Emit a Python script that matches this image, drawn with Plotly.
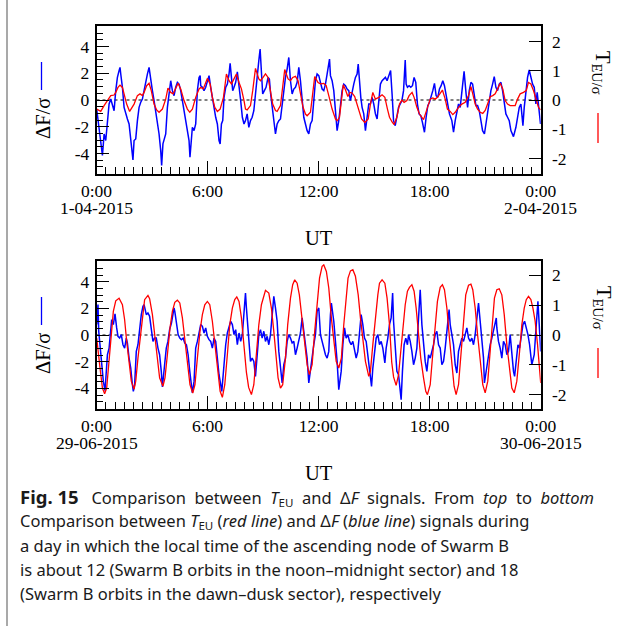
import plotly.graph_objects as go

# ---------------- data (hours UT, normalised values) ----------------
# Panel 1: 1-04-2015
top_dF = [
    (0.01, -0.67), (0.08, -1.54), (0.19, -2.79), (0.26, -3.91), (0.32, -4.15), (0.37, -3.28),
    (0.41, -2.54), (0.50, -3.03), (0.59, -1.54), (0.68, -0.30), (0.77, 0.07), (0.86, -0.42),
    (0.95, -0.80), (1.04, 0.70), (1.13, 1.69), (1.22, 2.19), (1.27, 2.44), (1.31, 1.94),
    (1.40, 0.95), (1.49, -0.55), (1.58, -1.04), (1.67, -1.42), (1.76, -1.79), (1.85, -3.03),
    (1.94, -4.40), (1.97, -4.48), (2.03, -3.03), (2.12, -2.91), (2.21, -1.54), (2.30, -0.55),
    (2.39, -0.17), (2.48, 0.07), (2.57, 0.70), (2.66, 1.44), (2.75, 1.94), (2.84, 2.44),
    (2.93, 1.32), (3.02, 0.70), (3.11, -0.05), (3.20, -0.80), (3.29, -1.79), (3.38, -2.54),
    (3.47, -3.78), (3.52, -4.90), (3.59, -3.28), (3.69, -2.79), (3.74, -2.54), (3.83, -0.55),
    (3.92, 0.45), (4.01, 1.44), (4.10, 0.70), (4.19, 0.32), (4.28, 0.95), (4.37, 1.32),
    (4.46, 1.19), (4.55, 0.70), (4.64, -0.05), (4.73, -0.80), (4.82, -1.54), (4.91, -2.04),
    (5.00, -3.03), (5.05, -4.28), (5.13, -2.54), (5.18, -2.04), (5.27, -2.29), (5.36, -1.79),
    (5.45, 0.70), (5.54, 1.69), (5.60, 1.82), (5.63, 1.07), (5.72, 0.95), (5.81, 0.70),
    (5.90, 0.95), (5.99, 1.32), (6.08, 1.82), (6.17, 0.95), (6.26, 0.20), (6.35, -0.80),
    (6.44, -1.29), (6.53, -1.79), (6.62, -3.03), (6.68, -3.28), (6.75, -1.79), (6.82, -1.54),
    (6.89, 0.20), (6.98, 0.95), (7.07, 1.19), (7.16, 1.94), (7.22, 2.74), (7.29, 1.69),
    (7.36, 0.70), (7.43, 0.95), (7.52, 1.32), (7.61, 2.11), (7.70, 1.19), (7.79, -0.05),
    (7.88, -1.29), (7.97, -1.79),
    (8.05, -1.54), (8.14, -1.04), (8.23, -2.04), (8.32, -1.54), (8.41, -1.29), (8.50, -0.80),
    (8.59, 0.45), (8.68, 1.94), (8.77, 2.94), (8.84, 3.81), (8.91, 1.69), (8.98, 0.45),
    (9.07, 0.70), (9.16, 0.95), (9.27, 1.69), (9.34, 1.57), (9.41, 0.45), (9.49, -0.55),
    (9.58, -1.54), (9.67, -2.54), (9.76, -1.79), (9.85, -1.54), (9.94, -1.42), (10.03, -0.30),
    (10.12, 0.70), (10.21, 1.69), (10.30, 2.31), (10.39, 3.18), (10.48, 1.44), (10.57, 0.45),
    (10.66, 0.82), (10.75, 0.95), (10.84, 1.32), (10.93, 2.44), (11.02, 1.44), (11.11, -0.30),
    (11.20, -1.29), (11.29, -1.79), (11.38, -2.29), (11.47, -2.54), (11.56, -1.79), (11.65, -1.54),
    (11.74, -0.30), (11.83, 1.44), (11.92, 1.94), (12.01, 1.82), (12.10, 1.32), (12.19, 0.82),
    (12.28, 0.70), (12.37, 1.19), (12.46, 1.94), (12.59, 3.06), (12.64, 1.82), (12.73, 1.44),
    (12.82, 0.70), (12.91, -0.55), (13.00, -2.29), (13.09, -1.54), (13.18, -0.55), (13.27, 0.70),
    (13.36, 1.19), (13.45, 1.07), (13.54, 0.82), (13.63, 0.70), (13.72, -0.05), (13.81, 0.70),
    (13.90, 1.19), (13.99, 1.69), (14.08, 1.94), (14.14, 2.69), (14.21, 1.19), (14.28, 0.20),
    (14.35, -0.55), (14.44, -1.04), (14.53, -2.29), (14.62, -1.04), (14.71, -0.30), (14.80, -0.30),
    (14.89, 0.20), (14.98, -0.30), (15.07, -1.04), (15.16, -1.42), (15.25, 0.20), (15.34, 1.19),
    (15.43, 1.44), (15.52, 1.57), (15.61, 1.69), (15.70, 1.44), (15.83, 2.00), (15.89, 2.20),
    (15.97, 0.45),
    (16.05, -1.54), (16.14, -1.92), (16.23, -1.04), (16.32, -0.55), (16.41, -0.30), (16.50, -0.05),
    (16.59, 0.70), (16.68, 2.99), (16.73, 1.19), (16.80, 0.95), (16.89, 1.07), (16.98, 0.95),
    (17.07, 1.07), (17.16, 1.69), (17.25, 1.32), (17.34, -0.30), (17.43, -1.04), (17.52, -1.17),
    (17.61, -1.67), (17.72, -2.41), (17.81, -1.29), (17.90, -0.42), (17.99, -0.17), (18.08, 0.20),
    (18.17, 0.70), (18.26, 1.24), (18.35, 0.32), (18.44, 0.20), (18.53, 0.82), (18.62, 1.07),
    (18.71, 1.44), (18.80, 1.07), (18.89, 0.32), (18.98, -0.55), (19.07, -1.04), (19.20, -1.54),
    (19.29, -2.41), (19.38, -1.54), (19.47, -0.92), (19.56, -0.30), (19.65, -0.55), (19.74, 0.70),
    (19.86, 2.14), (19.97, 0.45), (20.05, -0.55), (20.14, 0.70), (20.23, 1.32), (20.32, 1.19),
    (20.41, 0.32), (20.50, -0.42), (20.59, -0.42), (20.68, -0.80), (20.77, -1.54), (20.86, -2.29),
    (20.96, -2.54), (21.04, -1.79), (21.13, -0.80), (21.22, 0.20), (21.31, 0.70), (21.40, 1.19),
    (21.49, 1.74), (21.58, 0.95), (21.67, 0.70), (21.76, 1.19), (21.85, 1.32), (21.94, 0.70),
    (22.03, -0.30), (22.12, -1.04), (22.21, -1.29), (22.30, -1.54), (22.39, -2.29), (22.53, -2.74),
    (22.66, -2.04), (22.75, -1.29), (22.84, -0.55), (22.93, -0.30), (23.04, -1.92), (23.11, -0.55),
    (23.20, 0.70), (23.29, 1.69), (23.38, 2.24), (23.47, 1.57), (23.56, 1.19), (23.65, 0.95),
    (23.74, -0.30), (23.81, 0.57), (23.88, -0.30), (23.94, -1.29), (23.99, -1.79),
]

top_TEU = [
    (0.01, -0.31), (0.23, -0.39), (0.41, -0.19), (0.59, 0.00), (0.77, 0.15), (0.95, 0.17),
    (1.04, 0.26), (1.16, 0.43), (1.27, 0.51), (1.40, 0.43), (1.52, 0.09), (1.63, -0.14),
    (1.79, -0.39), (1.94, -0.25), (2.03, -0.14), (2.21, 0.15), (2.35, 0.21), (2.48, 0.15),
    (2.57, 0.26), (2.71, 0.49), (2.84, 0.57), (2.96, 0.32), (3.11, -0.14), (3.25, -0.34),
    (3.38, -0.42), (3.56, -0.31), (3.74, 0.03), (3.86, 0.41), (4.01, 0.26), (4.14, 0.21),
    (4.28, 0.38), (4.41, 0.57), (4.55, 0.38), (4.73, -0.02), (4.91, -0.31), (5.04, -0.42),
    (5.18, -0.31), (5.36, 0.09), (5.54, 0.38), (5.63, 0.43), (5.77, 0.38), (5.88, 0.60),
    (5.99, 0.74), (6.14, 0.55), (6.26, 0.09), (6.39, -0.25), (6.53, -0.39), (6.68, -0.31),
    (6.86, 0.09), (7.02, 0.89), (7.16, 0.66), (7.29, 0.55), (7.43, 0.72), (7.56, 0.89),
    (7.70, 0.60), (7.83, 0.38), (7.97, -0.02),
    (8.05, -0.31), (8.14, -0.34), (8.32, -0.19), (8.44, 0.32), (8.59, 1.08), (8.77, 0.72),
    (8.86, 0.66), (9.00, 0.77), (9.13, 0.89), (9.27, 0.77), (9.40, 0.32), (9.52, -0.14),
    (9.67, -0.36), (9.76, -0.39), (9.94, -0.19), (10.06, 0.55), (10.17, 1.04), (10.35, 0.72),
    (10.48, 0.66), (10.60, 0.77), (10.75, 0.81), (10.89, 0.66), (11.02, 0.26), (11.16, -0.25),
    (11.29, -0.48), (11.38, -0.54), (11.56, -0.42), (11.69, 0.32), (11.79, 0.80), (11.97, 0.60),
    (12.10, 0.55), (12.28, 0.57), (12.41, 0.49), (12.55, 0.15), (12.73, -0.31), (12.91, -0.65),
    (13.00, -0.71), (13.13, -0.59), (13.24, 0.05), (13.33, 0.52), (13.45, 0.35), (13.58, 0.12),
    (13.70, 0.26), (13.81, 0.24), (13.95, 0.12), (14.14, -0.31), (14.32, -0.65), (14.50, -0.77),
    (14.68, -0.65), (14.80, -0.14), (14.93, 0.26), (15.07, 0.03), (15.25, 0.09), (15.43, 0.18),
    (15.58, 0.09), (15.72, -0.31), (15.83, -0.59), (15.97, -0.75),
    (16.08, -0.84), (16.23, -0.59), (16.37, -0.14), (16.50, 0.00), (16.62, -0.08), (16.77, -0.02),
    (16.89, 0.15), (17.05, 0.26), (17.16, 0.09), (17.31, -0.25), (17.45, -0.48), (17.67, -0.67),
    (17.81, -0.42), (17.94, -0.14), (18.03, 0.03), (18.17, 0.07), (18.30, 0.03), (18.42, 0.09),
    (18.57, 0.21), (18.69, 0.34), (18.84, 0.03), (18.96, -0.31), (19.11, -0.39), (19.25, -0.50),
    (19.38, -0.42), (19.56, -0.25), (19.74, -0.14), (19.92, -0.08), (20.10, 0.15), (20.23, 0.46),
    (20.33, 0.21), (20.46, -0.14), (20.59, -0.31), (20.73, -0.42), (20.87, -0.46), (21.00, -0.36),
    (21.13, -0.14), (21.27, 0.11), (21.41, 0.15), (21.54, 0.21), (21.67, 0.38), (21.81, 0.57),
    (21.95, 0.38), (22.08, -0.02), (22.21, -0.14), (22.35, -0.19), (22.50, -0.19), (22.62, -0.19),
    (22.75, 0.03), (22.89, 0.21), (23.07, 0.26), (23.22, 0.32), (23.34, 0.60), (23.47, 0.55),
    (23.61, 0.32), (23.76, -0.02), (23.88, -0.25), (23.99, -0.34),
]

# Panel 2: 29-06-2015
bot_dF = [
    (0.01, 0.80), (0.08, 2.28), (0.12, 0.28), (0.19, -0.73), (0.26, -1.73), (0.37, -3.48),
    (0.46, -4.18), (0.53, -2.48), (0.59, -1.48), (0.68, -0.98), (0.77, 0.53), (0.82, 1.15),
    (0.91, 0.78), (1.00, 1.58), (1.09, 0.53), (1.16, -0.10), (1.25, -0.23), (1.34, 0.03),
    (1.43, -0.73), (1.52, -0.98), (1.61, -0.23), (1.67, -0.60), (1.76, -1.73), (1.85, -2.48),
    (1.94, -3.73), (1.99, -4.23), (2.06, -3.73), (2.15, -1.23), (2.24, -0.73), (2.33, 0.53),
    (2.42, 1.53), (2.51, 2.15), (2.57, 2.28), (2.69, 1.53), (2.78, 1.65), (2.87, 1.40),
    (2.96, 0.40), (3.05, -0.48), (3.14, -0.23), (3.23, -0.23), (3.32, -0.98), (3.41, -1.48),
    (3.50, -2.73), (3.56, -3.90), (3.68, -2.23), (3.77, -0.98), (3.86, -0.48), (3.95, 0.40),
    (4.05, 0.90), (4.19, 2.03), (4.23, 1.78), (4.32, 0.78), (4.41, 0.03), (4.50, -0.23),
    (4.59, -0.35), (4.68, -0.23), (4.77, -0.60), (4.86, -0.73), (4.95, -1.48), (5.04, -2.73),
    (5.13, -3.98), (5.18, -4.35), (5.27, -3.48), (5.36, -0.98), (5.45, -0.48), (5.54, 0.15),
    (5.63, 0.78), (5.72, 0.65), (5.81, 0.15), (5.90, 0.53), (5.99, -0.10), (6.08, -0.35),
    (6.17, -0.48), (6.26, -0.98), (6.35, -0.23), (6.44, -0.48), (6.53, -1.73), (6.62, -2.98),
    (6.77, -4.23), (6.89, -1.98), (6.98, -0.73), (7.07, 0.15), (7.16, 0.53), (7.25, 1.03),
    (7.34, 0.78), (7.43, 0.03), (7.52, 0.40), (7.61, -0.73), (7.70, 0.15), (7.79, -0.48),
    (7.88, 0.03), (7.97, 1.53),
    (8.05, 3.15), (8.10, 2.03), (8.17, 0.78), (8.23, -0.73), (8.32, -1.98), (8.41, -1.73),
    (8.50, -1.98), (8.59, -3.10), (8.68, -1.73), (8.77, 0.03), (8.86, 0.40), (8.95, -0.23),
    (9.04, 0.28), (9.13, -0.48), (9.22, -0.10), (9.31, -0.73), (9.40, 0.03), (9.49, 1.53),
    (9.58, 2.90), (9.67, 2.03), (9.76, 1.03), (9.85, -1.23), (9.94, -2.48), (10.03, -3.60),
    (10.12, -2.23), (10.21, -1.73), (10.30, -0.48), (10.39, 0.03), (10.48, -0.23), (10.57, -0.60),
    (10.66, -0.48), (10.75, -1.48), (10.84, -0.98), (10.93, -0.48), (11.02, 0.15), (11.11, 1.28),
    (11.20, 0.28), (11.29, -0.73), (11.38, -1.73), (11.47, -3.60), (11.56, -2.48), (11.65, -1.73),
    (11.74, -0.73), (11.83, 0.03), (11.92, 1.78), (12.01, 2.03), (12.10, 0.03), (12.19, -0.48),
    (12.28, -0.98), (12.37, -1.48), (12.46, -1.73), (12.55, -1.23), (12.64, 1.53), (12.69, 2.40),
    (12.82, 1.03), (12.91, -0.23), (13.00, -1.98), (13.09, -4.10), (13.22, -2.73), (13.31, -0.73),
    (13.40, 0.53), (13.49, -0.23), (13.58, 0.03), (13.67, -0.48), (13.76, -0.73), (13.85, -0.48),
    (13.94, -1.23), (14.03, -1.73), (14.12, -1.23), (14.21, 0.03), (14.30, 1.53), (14.39, 0.78),
    (14.48, -0.23), (14.57, -0.48), (14.66, -1.48), (14.75, -2.73), (14.86, -3.85), (14.93, -2.48),
    (15.02, -1.23), (15.11, -0.23), (15.20, 0.03), (15.29, -0.73), (15.38, -0.48), (15.47, -0.98),
    (15.58, -2.10), (15.65, -0.98), (15.74, -0.23), (15.83, 0.78), (15.92, 1.28), (16.00, 3.15),
    (16.05, 1.03), (16.14, -1.23), (16.23, -2.73), (16.32, -2.98), (16.41, -3.98), (16.46, -4.85),
    (16.53, -2.73), (16.62, -0.73), (16.71, -0.23), (16.80, -0.73), (16.86, 0.03), (16.95, -0.48),
    (17.04, -1.23), (17.13, -2.23), (17.22, -1.73), (17.31, -0.98), (17.40, 1.28), (17.49, 3.40),
    (17.58, 0.78), (17.67, -0.73), (17.76, -1.98), (17.85, -2.73), (17.94, -1.48), (18.03, -1.73),
    (18.12, -1.23), (18.21, -0.73), (18.30, 0.03), (18.39, 0.28), (18.48, -0.73), (18.57, -0.98),
    (18.66, -2.23), (18.75, -1.98), (18.84, -0.98), (18.93, 0.28), (19.05, 1.90), (19.11, 0.78),
    (19.20, 0.03), (19.29, -0.73), (19.38, -2.23), (19.47, -2.85), (19.56, -1.23), (19.65, -0.73),
    (19.74, -0.23), (19.83, -0.48), (19.92, 0.03), (20.01, 0.53), (20.10, -0.23), (20.19, -0.48),
    (20.28, -0.23), (20.37, -0.73), (20.46, 0.03), (20.55, 1.28), (20.64, 2.40), (20.73, 1.03),
    (20.82, -0.48), (20.91, -1.73), (20.96, -3.60), (21.09, -2.23), (21.18, -1.48), (21.27, -0.73),
    (21.36, -0.23), (21.45, 0.28), (21.60, 1.28), (21.63, 0.53), (21.72, -0.48), (21.81, -0.98),
    (21.90, -1.73), (21.99, -0.48), (22.08, -0.73), (22.17, -1.48), (22.26, -1.23), (22.35, 0.03),
    (22.44, -1.48), (22.53, -2.73), (22.59, -3.10), (22.68, -1.73), (22.77, -0.73), (22.86, -0.98),
    (22.95, 0.03), (23.04, 0.78), (23.13, 1.03), (23.22, 0.53), (23.31, 0.03), (23.40, -0.73),
    (23.49, -1.73), (23.52, -2.23), (23.65, -1.48), (23.74, 0.03), (23.79, 1.53), (23.85, 2.53),
    (23.92, 0.78), (23.97, -0.98), (24.00, -1.23),
]

bot_TEU = [
    (0.01, -0.10), (0.08, -0.43), (0.19, -1.10), (0.32, -1.77), (0.44, -1.96), (0.55, -1.77),
    (0.68, -0.77), (0.80, 0.12), (0.91, 0.79), (1.04, 1.14), (1.22, 1.23), (1.40, 1.01),
    (1.52, 0.51), (1.63, -0.21), (1.76, -0.99), (1.88, -1.54), (2.03, -1.81), (2.12, -1.54),
    (2.24, -0.77), (2.39, 0.12), (2.51, 0.79), (2.60, 1.18), (2.78, 1.32), (2.87, 1.21),
    (3.02, 0.68), (3.14, 0.01), (3.29, -0.77), (3.41, -1.43), (3.59, -1.71), (3.70, -1.43),
    (3.83, -0.66), (3.97, 0.23), (4.10, 0.79), (4.23, 1.09), (4.37, 1.16), (4.50, 1.07),
    (4.64, 0.57), (4.77, -0.10), (4.91, -0.99), (5.05, -1.66), (5.20, -1.94), (5.32, -1.66),
    (5.45, -0.77), (5.59, 0.12), (5.72, 0.68), (5.85, 1.01), (5.99, 1.12), (6.12, 1.01),
    (6.26, 0.46), (6.39, -0.32), (6.53, -1.21), (6.68, -1.88), (6.80, -2.08), (6.93, -1.66),
    (7.07, -0.66), (7.20, 0.34), (7.34, 0.90), (7.47, 1.18), (7.58, 1.27), (7.70, 1.12),
    (7.83, 0.57), (7.97, -0.40),
    (8.10, -1.25), (8.22, -1.75), (8.37, -1.99), (8.50, -1.66), (8.62, -0.77), (8.77, 0.34),
    (8.91, 1.01), (9.04, 1.34), (9.13, 1.49), (9.31, 1.40), (9.45, 0.90), (9.58, 0.12),
    (9.70, -0.77), (9.81, -1.43), (9.94, -1.77), (10.06, -1.66), (10.21, -0.77), (10.33, 0.34),
    (10.48, 1.23), (10.60, 1.68), (10.71, 1.84), (10.84, 1.73), (10.96, 1.34), (11.11, 0.57),
    (11.25, -0.32), (11.38, -0.99), (11.50, -1.32), (11.65, -0.99), (11.79, 0.12), (11.92, 1.12),
    (12.05, 1.90), (12.19, 2.29), (12.28, 2.34), (12.42, 2.12), (12.55, 1.57), (12.69, 0.57),
    (12.82, -0.21), (12.95, -0.88), (13.09, -1.10), (13.23, -0.77), (13.36, 0.34), (13.49, 1.34),
    (13.59, 1.90), (13.72, 2.14), (13.85, 2.18), (13.99, 1.96), (14.14, 1.34), (14.26, 0.57),
    (14.39, -0.21), (14.53, -0.88), (14.71, -1.38), (14.80, -1.21), (14.93, -0.32), (15.07, 0.68),
    (15.20, 1.34), (15.29, 1.73), (15.43, 1.84), (15.58, 1.73), (15.70, 1.23), (15.83, 0.34),
    (15.95, -0.90), (16.05, -1.40),
    (16.19, -1.68), (16.32, -1.32), (16.44, -0.54), (16.55, 0.34), (16.68, 1.01), (16.80, 1.46),
    (16.91, 1.59), (17.04, 1.68), (17.16, 1.46), (17.27, 0.90), (17.40, 0.01), (17.52, -0.77),
    (17.67, -1.43), (17.79, -1.88), (17.88, -1.99), (18.03, -1.66), (18.15, -0.77), (18.30, 0.34),
    (18.42, 1.12), (18.57, 1.59), (18.69, 1.68), (18.80, 1.51), (18.93, 0.90), (19.07, -0.10),
    (19.20, -0.99), (19.32, -1.71), (19.43, -1.99), (19.56, -1.66), (19.69, -0.66), (19.83, 0.57),
    (19.95, 1.34), (20.10, 1.66), (20.23, 1.70), (20.33, 1.51), (20.46, 0.90), (20.59, 0.01),
    (20.73, -0.88), (20.87, -1.66), (21.00, -1.93), (21.14, -1.54), (21.27, -0.54), (21.40, 0.57),
    (21.50, 1.23), (21.63, 1.51), (21.76, 1.54), (21.90, 1.34), (22.03, 0.68), (22.17, -0.32),
    (22.32, -1.21), (22.44, -1.77), (22.57, -1.93), (22.71, -1.54), (22.86, -0.54), (22.98, 0.34),
    (23.11, 0.90), (23.22, 1.18), (23.34, 1.29), (23.47, 1.18), (23.58, 0.90), (23.70, 0.46),
    (23.83, -0.32), (23.94, -1.10), (24.00, -1.60),
]

hour_ticks = [0, 6, 12, 18, 24]
hour_labels = ["0:00", "6:00", "12:00", "18:00", "0:00"]
dF_ticks = [-4, -2, 0, 2, 4]
dF_labels = ["-4", "-2", "0", "2", "4"]
T_ticks = [-2, -1, 0, 1, 2]
T_labels = ["-2", "-1", "0", "1", "2"]
dates_top = ["1-04-2015", "2-04-2015"]
dates_bot = ["29-06-2015", "30-06-2015"]

NB = "\u00a0"  # wider word gaps emulate the justified first caption line
caption_lines = [
    f"<span style='font-size:18.5px'><b>Fig. 15</b></span>{NB} {NB}Comparison {NB}between {NB}<i>T</i><sub>EU</sub> {NB}and "
    f"{NB}Δ<i>F</i> {NB}signals. {NB}From {NB}<i>top</i> {NB}to {NB}<i>bottom</i>",
    "Comparison between <i>T</i><sub>EU</sub> (<i>red line</i>) and Δ<i>F</i> (<i>blue line</i>) signals during",
    "a day in which the local time of the ascending node of Swarm B",
    "is about 12 (Swarm B orbits in the noon–midnight sector) and 18",
    "(Swarm B orbits in the dawn–dusk sector), respectively",
]

# ---------------- layout helpers ----------------
W, H = 624, 626
SERIF = "Liberation Serif"
SANS = "Noto Sans"


def px(x):
    return x / W


def py(y):
    return 1 - y / H


def unzip(pairs):
    return [p[0] for p in pairs], [p[1] for p in pairs]


XL, XR = 96.5, 540.7
PANELS = [  # (top px, bottom px)
    (26, 174),
    (261, 409),
]

fig = go.Figure()

series = [
    (top_dF, "x", "y", "#0000ff", 1.5),
    (top_TEU, "x", "y2", "#ff0000", 1.3),
    (bot_dF, "x2", "y3", "#0000ff", 1.5),
    (bot_TEU, "x2", "y4", "#ff0000", 1.3),
]
for pairs, xa, ya, col, w in series:
    t, v = unzip(pairs)
    fig.add_trace(go.Scatter(x=t, y=v, mode="lines", xaxis=xa, yaxis=ya,
                             line=dict(color=col, width=w), showlegend=False,
                             hoverinfo="skip"))

tickfont = dict(family=SERIF, size=17.5, color="black")
xbase = dict(range=[0, 24], tickmode="array", tickvals=hour_ticks, ticktext=hour_labels,
             ticks="inside", ticklen=13, tickwidth=1.2, tickcolor="black",
             minor=dict(tickmode="linear", tick0=0, dtick=0.5, ticks="inside", ticklen=7,
                        tickwidth=1.2, tickcolor="black", showgrid=False),
             showline=True, linecolor="black", linewidth=1.5, mirror=True, automargin=False,
             showgrid=False, zeroline=False, tickfont=tickfont, ticklabelstandoff=0)
ybase = dict(tickmode="array", tickvals=dF_ticks, ticktext=dF_labels,
             ticks="inside", ticklen=13, tickwidth=1.2, tickcolor="black",
             minor=dict(tickmode="linear", tick0=0, dtick=0.5, ticks="inside", ticklen=7,
                        tickwidth=1.2, tickcolor="black", showgrid=False),
             showline=True, linecolor="black", linewidth=1.5, mirror=False, automargin=False,
             showgrid=False, zeroline=False, tickfont=tickfont, ticklabelstandoff=2)
y2base = dict(tickmode="array", tickvals=T_ticks, ticktext=T_labels, side="right",
              ticks="inside", ticklen=12, tickwidth=1.2, tickcolor="black",
              showline=True, linecolor="black", linewidth=1.5, automargin=False,
              showgrid=False, zeroline=False, tickfont=tickfont, ticklabelstandoff=6)

xdom = [px(XL), px(XR)]
(t1, b1), (t2, b2) = PANELS
fig.update_layout(
    xaxis=dict(xbase, domain=xdom, anchor="y"),
    yaxis=dict(ybase, domain=[py(b1), py(t1)], range=[-5.53, 5.53], anchor="x"),
    yaxis2=dict(y2base, overlaying="y", anchor="x", range=[-2.53, 2.53]),
    xaxis2=dict(xbase, domain=xdom, anchor="y3"),
    yaxis3=dict(ybase, domain=[py(b2), py(t2)], range=[-5.55, 5.55], anchor="x2"),
    yaxis4=dict(y2base, overlaying="y3", anchor="x2", range=[-2.47, 2.47]),
)

shapes = []
for xa, ya in (("x", "y"), ("x2", "y3")):
    shapes.append(dict(type="line", xref=xa, yref=ya, x0=0, x1=24, y0=0, y1=0,
                       line=dict(color="black", width=1, dash="3px,3px"), layer="below"))

annotations = []
# dates under first/last tick, UT titles
for xa, (top, bot), dates in (("x", PANELS[0], dates_top), ("x2", PANELS[1], dates_bot)):
    for xv, d in zip([0, 24], dates):
        annotations.append(dict(text=d, x=xv, xref=xa, y=py(bot + 34), yref="paper",
                                xanchor="center", yanchor="middle", showarrow=False,
                                font=tickfont))
    annotations.append(dict(text="UT", x=px((XL + XR) / 2), xref="paper", y=py(bot + 64),
                            yref="paper", xanchor="center", yanchor="middle",
                            showarrow=False, font=dict(family=SERIF, size=20.5, color="black")))

# axis titles with coloured line keys
for top, bot in PANELS:
    mid = top - 26
    annotations.append(dict(text="ΔF/σ", x=px(43), y=py(119 + mid), xref="paper", yref="paper",
                            textangle=-90, showarrow=False, xanchor="center", yanchor="middle",
                            font=dict(family=SERIF, size=20.5, color="black")))
    shapes.append(dict(type="line", xref="paper", yref="paper", x0=px(41.5), x1=px(41.5),
                       y0=py(62 + mid), y1=py(90 + mid), line=dict(color="#0000ff", width=1.3)))
    annotations.append(dict(text="T<sub>EU/σ</sub>", x=px(602), y=py(73 + mid), xref="paper",
                            yref="paper", textangle=90, showarrow=False, xanchor="center",
                            yanchor="middle", font=dict(family=SERIF, size=20.5, color="black")))
    shapes.append(dict(type="line", xref="paper", yref="paper", x0=px(598), x1=px(598),
                       y0=py(113 + mid), y1=py(143 + mid), line=dict(color="#ff0000", width=1.3)))

# caption
for i, line in enumerate(caption_lines):
    annotations.append(dict(text=line, x=px(18), y=py(497 + 24.2 * i), xref="paper", yref="paper",
                            xanchor="left", yanchor="middle", showarrow=False, align="left",
                            font=dict(family=SANS, size=16.5, color="#1a1a1a")))

# frame line of the figure box
shapes.append(dict(type="line", xref="paper", yref="paper", x0=px(7), x1=px(7), y0=0, y1=1,
                   line=dict(color="#8c8c8c", width=1.5)))

fig.update_layout(width=W, height=H, margin=dict(l=0, r=0, t=0, b=0), autosize=False,
                  paper_bgcolor="white", plot_bgcolor="white", showlegend=False,
                  shapes=shapes, annotations=annotations)

fig.write_html("out.html")
